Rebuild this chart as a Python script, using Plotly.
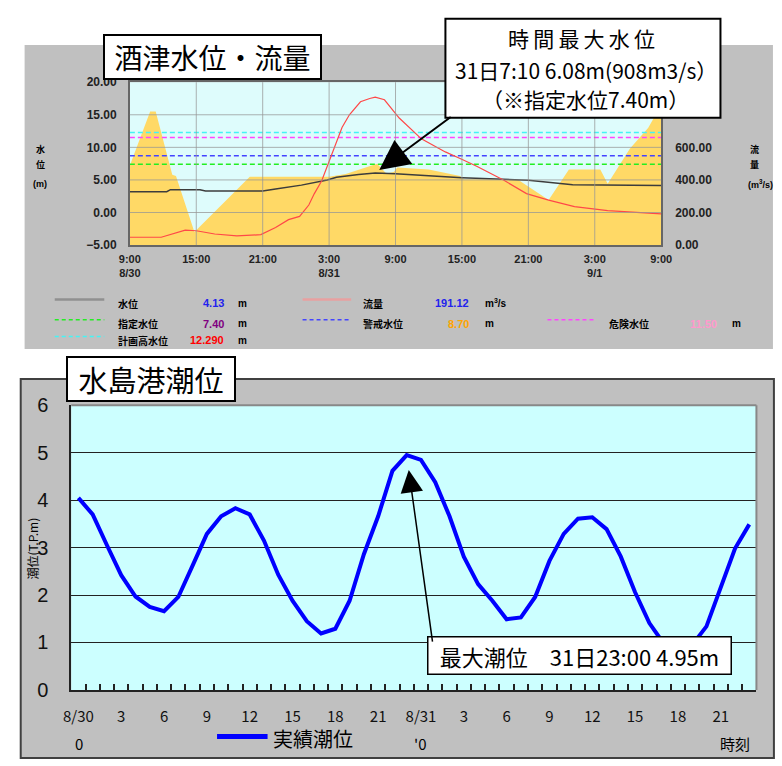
import plotly.graph_objects as go

W, H = 782, 766


def px(x):
    return x / W


def py(y):
    return 1 - y / H


JP = "Noto Sans CJK JP"
NUM = "Liberation Sans"

# ================= 酒津水位・流量 (top chart) =================
# yellow filled area (left axis units, m)
area_times = ["2021-08-30 09:00", "2021-08-30 10:50", "2021-08-30 11:20", "2021-08-30 12:50",
              "2021-08-30 13:10", "2021-08-30 14:50", "2021-08-30 19:50", "2021-08-31 03:00",
              "2021-08-31 04:30", "2021-08-31 07:20", "2021-08-31 08:10", "2021-08-31 08:50",
              "2021-08-31 09:10", "2021-08-31 12:00", "2021-08-31 14:50", "2021-08-31 15:10",
              "2021-08-31 20:00", "2021-08-31 22:50", "2021-09-01 00:40", "2021-09-01 03:30",
              "2021-09-01 04:10", "2021-09-01 06:10", "2021-09-01 07:50", "2021-09-01 09:00"]
area_vals = [7.2, 15.5, 15.5, 5.8, 5.6, -3.0, 5.5, 5.5, 5.9, 7.5, 6.0, 6.2,
             6.9, 6.6, 5.6, 5.1, 5.1, 1.9, 6.6, 6.6, 4.4, 9.8, 13.0, 16.5]

# 水位 (m)
wl_times = ["2021-08-30 09:00", "2021-08-30 12:20", "2021-08-30 12:40", "2021-08-30 15:20",
            "2021-08-30 15:50", "2021-08-30 21:00", "2021-08-30 22:10", "2021-08-31 00:30",
            "2021-08-31 02:50", "2021-08-31 03:40", "2021-08-31 05:40", "2021-08-31 07:10",
            "2021-08-31 09:00", "2021-08-31 15:00", "2021-08-31 21:00", "2021-09-01 01:00",
            "2021-09-01 09:00"]
wl_vals = [3.2, 3.2, 3.5, 3.5, 3.3, 3.3, 3.6, 4.2, 5.0, 5.4, 5.85, 6.08, 5.95, 5.35, 4.95, 4.25, 4.13]

# 流量 (m3/s)
flow_times = ["2021-08-30 09:00", "2021-08-30 11:50", "2021-08-30 14:00", "2021-08-30 15:00",
              "2021-08-30 16:40", "2021-08-30 18:40", "2021-08-30 20:50", "2021-08-30 22:10",
              "2021-08-30 23:20", "2021-08-31 00:20", "2021-08-31 01:10", "2021-08-31 01:40",
              "2021-08-31 02:20", "2021-08-31 02:50", "2021-08-31 03:30", "2021-08-31 04:10",
              "2021-08-31 04:50", "2021-08-31 05:50", "2021-08-31 06:40", "2021-08-31 07:10",
              "2021-08-31 08:00", "2021-08-31 09:20", "2021-08-31 11:20", "2021-08-31 13:30",
              "2021-08-31 14:50", "2021-08-31 16:20", "2021-08-31 18:50", "2021-08-31 20:50",
              "2021-08-31 22:50", "2021-09-01 01:10", "2021-09-01 04:10", "2021-09-01 09:00"]
flow_vals = [48, 48, 92, 88, 68, 56, 64, 108, 156, 176, 246, 316, 395, 484, 604, 722,
             800, 880, 900, 908, 892, 780, 652, 572, 532, 484, 396, 316, 276, 236, 212, 191.12]

thr_names = ["指定水位", "警戒水位", "危険水位", "計画高水位"]
thr_vals = [7.40, 8.70, 11.50, 12.29]
thr_colors = ["#22EE22", "#4444FF", "#FF44FF", "#44F4F4"]

top_tickvals = ["2021-08-30 09:00", "2021-08-30 15:00", "2021-08-30 21:00", "2021-08-31 03:00",
                "2021-08-31 09:00", "2021-08-31 15:00", "2021-08-31 21:00", "2021-09-01 03:00",
                "2021-09-01 09:00"]
top_ticktext = ["9:00<br>8/30", "15:00", "21:00", "3:00<br>8/31", "9:00", "15:00", "21:00",
                "3:00<br>9/1", "9:00"]
left_ticks = [-5, 0, 5, 10, 15, 20]
right_ticks = [0, 200, 400, 600]
flow_range = [0, 1000]

# ================= 水島港潮位 (bottom chart) =================
tide_dates = ["8/30"] * 24 + ["8/31"] * 24
tide_hours = list(range(24)) * 2
tide_vals = [4.05, 3.70, 3.05, 2.42, 1.97, 1.75, 1.66, 1.96, 2.62, 3.29, 3.66, 3.83,
             3.70, 3.15, 2.43, 1.88, 1.45, 1.19, 1.29, 1.88, 2.86, 3.66, 4.62, 4.95,
             4.85, 4.38, 3.66, 2.81, 2.23, 1.88, 1.49, 1.53, 1.96, 2.72, 3.29, 3.61,
             3.64, 3.39, 2.81, 2.06, 1.41, 0.98, 0.90, 0.95, 1.34, 2.19, 2.98, 3.49]
tide_cats = [f"{d} {h}時" for d, h in zip(tide_dates, tide_hours)]
tide_ticktext = [(d if h == 0 else str(h)) if h % 3 == 0 else "" for d, h in zip(tide_dates, tide_hours)]
tide_yticks = [0, 1, 2, 3, 4, 5, 6]

LEVEL_MIN, LEVEL_MAX = left_ticks[0], left_ticks[-1]
t_start, t_end = top_tickvals[0], top_tickvals[-1]

fig = go.Figure()

# baseline for the filled area
fig.add_trace(go.Scatter(x=[t_start, t_end], y=[LEVEL_MIN, LEVEL_MIN], mode="lines",
                         line=dict(width=0, color="rgba(0,0,0,0)"), hoverinfo="skip", showlegend=False))
fig.add_trace(go.Scatter(x=area_times, y=area_vals, mode="none", fill="tonexty",
                         fillcolor="#FFD966", showlegend=False))
for name, v, c in zip(thr_names, thr_vals, thr_colors):
    fig.add_trace(go.Scatter(x=[t_start, t_end], y=[v, v], mode="lines", name=name,
                             line=dict(color=c, width=1.5, dash="5px,3px"), showlegend=False))
fig.add_trace(go.Scatter(x=wl_times, y=wl_vals, mode="lines", name="水位",
                         line=dict(color="#3c3c3c", width=1.5), showlegend=False))
fig.add_trace(go.Scatter(x=flow_times, y=flow_vals, yaxis="y2", mode="lines", name="流量",
                         line=dict(color="#FF4848", width=1.2), showlegend=False))
fig.add_trace(go.Scatter(x=tide_cats, y=tide_vals, xaxis="x2", yaxis="y3", mode="lines",
                         name="実績潮位", line=dict(color="#0000FF", width=4), showlegend=False))

shapes = []
# gray panels
shapes.append(dict(type="rect", xref="paper", yref="paper", x0=px(14), x1=px(784), y0=py(348), y1=py(35),
                   fillcolor="#C0C0C0", line=dict(width=0), layer="below"))
shapes.append(dict(type="rect", xref="paper", yref="paper", x0=px(10), x1=px(785), y0=py(769), y1=py(379),
                   fillcolor="#C0C0C0", line=dict(width=2, color="#404040"), layer="below"))
# plot backgrounds
shapes.append(dict(type="rect", xref="x domain", yref="y domain", x0=0, x1=1, y0=0, y1=1,
                   fillcolor="#DEFCFC", line=dict(width=0), layer="below"))
shapes.append(dict(type="rect", xref="x2 domain", yref="y3 domain", x0=0, x1=1, y0=0, y1=1,
                   fillcolor="#CCFFFF", line=dict(width=0), layer="below"))
# top gridlines (drawn above the filled area)
for tv in top_tickvals[1:-1]:
    shapes.append(dict(type="line", xref="x", yref="y domain", x0=tv, x1=tv, y0=0, y1=1,
                       line=dict(color="rgba(150,150,150,0.75)", width=1), layer="above"))
for lv in left_ticks[1:-1]:
    shapes.append(dict(type="line", xref="x domain", yref="y", x0=0, x1=1, y0=lv, y1=lv,
                       line=dict(color="rgba(150,150,150,0.75)", width=1), layer="above"))
# bottom plot frame (top/right gray)
shapes.append(dict(type="line", xref="x2 domain", yref="y3 domain", x0=0, x1=1, y0=1, y1=1,
                   line=dict(color="#888888", width=2), layer="above"))
shapes.append(dict(type="line", xref="x2 domain", yref="y3 domain", x0=1, x1=1, y0=0, y1=1,
                   line=dict(color="#888888", width=2), layer="above"))
# top callout box
shapes.append(dict(type="rect", xref="paper", yref="paper", x0=px(447), x1=px(730), y0=py(110), y1=py(8),
                   fillcolor="white", line=dict(width=2, color="black"), layer="above"))

# top legend line samples
leg_rows = [301, 322, 339]
legend_items = [
    # (x0, x1, row, color, dash, width)
    (45, 96, 0, "#909090", "solid", 2.5),
    (300, 350, 0, "#E8A0A0", "solid", 2.5),
    (45, 96, 1, thr_colors[0], "4px,3px", 1.5),
    (300, 350, 1, thr_colors[1], "4px,3px", 1.5),
    (552, 600, 1, thr_colors[2], "4px,3px", 1.5),
    (45, 96, 2, thr_colors[3], "4px,3px", 1.5),
]
for x0, x1, r, c, d, w in legend_items:
    yy = leg_rows[r] - 4
    shapes.append(dict(type="line", xref="paper", yref="paper", x0=px(x0), x1=px(x1), y0=py(yy), y1=py(yy),
                       line=dict(color=c, width=w, dash=d), layer="above"))
# bottom legend line
shapes.append(dict(type="line", xref="paper", yref="paper", x0=px(212), x1=px(264), y0=py(747), y1=py(747),
                   line=dict(color="#0000FF", width=5), layer="above"))

ann = []


def text(x, y, s, size, color="black", family=JP, xanchor="center", bold=False, **kw):
    if bold:
        s = f"<b>{s}</b>"
    ann.append(dict(xref="paper", yref="paper", x=px(x), y=py(y), text=s, showarrow=False,
                    xanchor=xanchor, yanchor="middle", font=dict(size=size, color=color, family=family), **kw))


# titles
ann.append(dict(xref="paper", yref="paper", x=px(207.5), y=py(47), text="酒津水位・流量", showarrow=False,
                font=dict(size=28, family=JP, color="black"), bgcolor="white", bordercolor="black",
                borderwidth=2, borderpad=1, width=213, height=40, xanchor="center", yanchor="middle"))
ann.append(dict(xref="paper", yref="paper", x=px(144), y=py(379), text="水島港潮位", showarrow=False,
                font=dict(size=29, family=JP, color="black"), bgcolor="white", bordercolor="black",
                borderwidth=2, borderpad=1, width=164, height=40, xanchor="center", yanchor="middle"))

# top callout text
text(587, 28, "\u2009".join("時間最大水位"), 21)
text(592, 61, "31日7:10 6.08m(908m3/s）", 21)
text(591, 91, "（※指定水位7.40m）", 21)
# top arrow
ann.append(dict(xref="x", yref="y", x=wl_times[wl_vals.index(max(wl_vals))], y=max(wl_vals), text="",
                showarrow=True, axref="pixel", ayref="pixel", ax=77, ay=-57, standoff=5,
                arrowhead=2, arrowsize=3, arrowwidth=2, arrowcolor="black"))

# top axis side labels
text(30, 143, "水", 9, bold=True)
text(30, 158, "位", 9, bold=True)
text(30, 178, "(m)", 9, bold=True, family=NUM)
text(765, 143, "流", 9, bold=True)
text(765, 158, "量", 9, bold=True)
text(756, 178, "(m<sup>3</sup>/s)", 9, bold=True, family=NUM, xanchor="left")


# top legend texts
def legrow(x_label, row, label, x_val, val, vcolor, x_unit, unit):
    y = leg_rows[row]
    text(x_label, y, label, 10, bold=True, xanchor="left")
    text(x_val, y, val, 11, color=vcolor, family=NUM, bold=True, xanchor="right")
    text(x_unit, y, unit, 10, family=NUM, bold=True, xanchor="left")


legrow(108, 0, "水位", 221, f"{wl_vals[-1]:.2f}", "#2222EE", 232, "m")
legrow(360, 0, "流量", 473, f"{flow_vals[-1]:.2f}", "#2222EE", 486, "m<sup>3</sup>/s")
legrow(108, 1, thr_names[0], 221, f"{thr_vals[0]:.2f}", "#800080", 232, "m")
legrow(360, 1, thr_names[1], 473, f"{thr_vals[1]:.2f}", "#FFA500", 486, "m")
legrow(613, 1, thr_names[2], 728, f"{thr_vals[2]:.2f}", "#FF99CC", 740, "m")
legrow(108, 2, thr_names[3], 221, f"{thr_vals[3]:.3f}", "#FF0000", 232, "m")

# bottom callout
imax = tide_vals.index(max(tide_vals))
ann.append(dict(xref="paper", yref="paper", x=px(584.5), y=py(664), text="最大潮位　31日23:00 4.95m",
                showarrow=False, font=dict(size=22, family=JP, color="black"), bgcolor="white",
                bordercolor="black", borderwidth=1.5, borderpad=1, width=300, height=34,
                xanchor="center", yanchor="middle"))
ann.append(dict(xref="x2", yref="y3", x=tide_cats[imax], y=tide_vals[imax], text="", showarrow=True,
                axref="pixel", ayref="pixel", ax=26, ay=188, standoff=15, arrowhead=2, arrowsize=3,
                arrowwidth=1.5, arrowcolor="black"))

# bottom axis extras
text(22, 553, "潮位(T.P.m)", 12, textangle=-90)
text(70, 754, "0", 15)
text(421, 754, "'0", 15)
text(745, 754, "時刻", 15)
text(268, 749, "実績潮位", 20, xanchor="left")

fig.update_layout(
    width=W, height=H, margin=dict(l=0, r=0, t=0, b=0),
    paper_bgcolor="white", plot_bgcolor="rgba(0,0,0,0)",
    showlegend=False, shapes=shapes, annotations=ann,
    xaxis=dict(type="date", domain=[px(122.3), px(669)], anchor="y", range=[t_start, t_end],
               tickmode="array", tickvals=top_tickvals, ticktext=top_ticktext, ticks="",
               tickfont=dict(size=11, family=NUM, color="#222", weight="bold"), ticklabelstandoff=3,
               showgrid=False, zeroline=False, showline=True, mirror=True, linecolor="#666", linewidth=1.5),
    yaxis=dict(domain=[py(241), py(73.3)], anchor="x", range=[LEVEL_MIN, LEVEL_MAX],
               tickmode="array", tickvals=left_ticks, tickformat=".2f", ticks="",
               tickfont=dict(size=12, family=NUM, color="#222", weight="bold"), ticklabelstandoff=9,
               showgrid=False, zeroline=False, showline=True, mirror=True, linecolor="#666", linewidth=1.5),
    yaxis2=dict(overlaying="y", side="right", anchor="x", range=flow_range,
                tickmode="array", tickvals=right_ticks, tickformat=".2f", ticks="",
                tickfont=dict(size=12, family=NUM, color="#222", weight="bold"), ticklabelstandoff=13,
                showgrid=False, zeroline=False, showline=False),
    xaxis2=dict(type="category", domain=[px(62), px(767)], anchor="y3", range=[-0.5, len(tide_cats) - 0.5],
                tickmode="array", tickvals=tide_cats, ticktext=tide_ticktext, tickson="boundaries",
                ticks="inside", ticklen=6, tickwidth=1.5, tickcolor="#222", tickangle=0,
                tickfont=dict(size=15, family=JP, color="#111"), ticklabelstandoff=12,
                showgrid=False, zeroline=False, showline=True, linecolor="#222", linewidth=2),
    yaxis3=dict(domain=[py(699), py(406)], anchor="x2", range=[tide_yticks[0], tide_yticks[-1]],
                tickmode="array", tickvals=tide_yticks, ticks="",
                tickfont=dict(size=20, family=NUM, color="#111"), ticklabelstandoff=17,
                showgrid=True, gridcolor="#222", gridwidth=1, zeroline=False,
                showline=True, linecolor="#222", linewidth=2),
)

post = ("document.documentElement.style.margin='0';document.documentElement.style.padding='0';"
        "document.documentElement.style.overflow='hidden';"
        "document.body.style.margin='0';document.body.style.padding='0';document.body.style.overflow='hidden';"
        "var gd=document.getElementsByClassName('plotly-graph-div')[0];"
        "gd.style.position='fixed';gd.style.left='0px';gd.style.top='0px';")
fig.write_html("out.html", config={"displayModeBar": False}, post_script=post)
